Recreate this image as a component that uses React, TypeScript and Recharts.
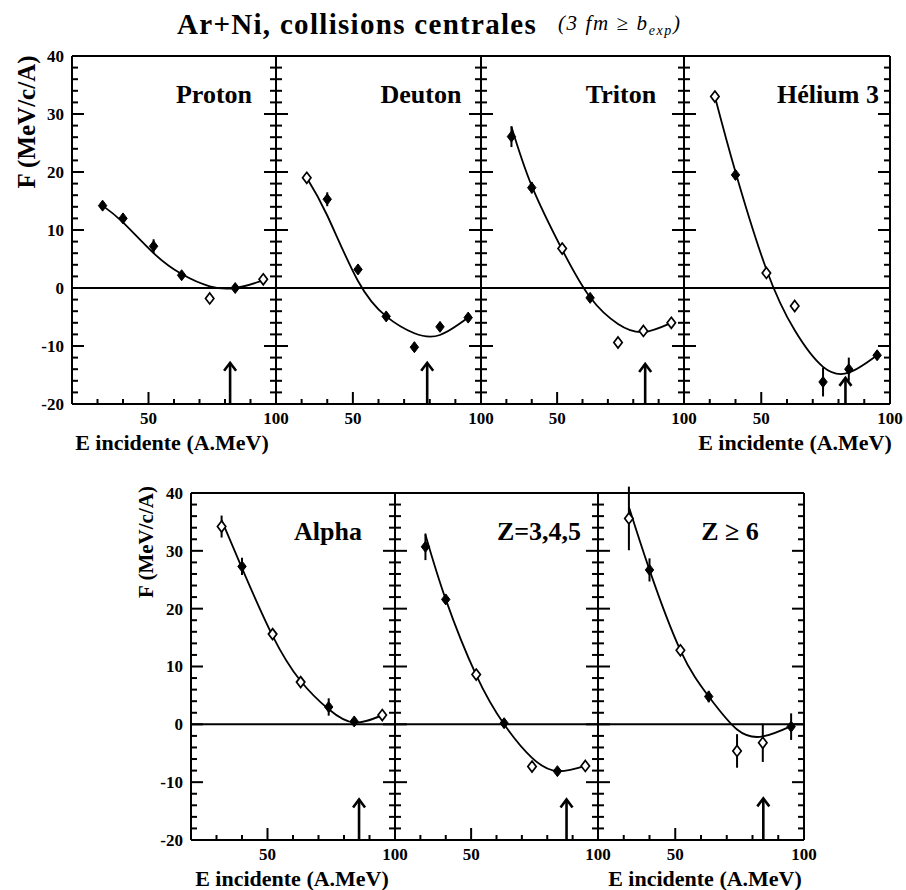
import React from "react";
import {
  ComposedChart,
  XAxis,
  YAxis,
  Line,
  Scatter,
  ErrorBar,
  ReferenceLine,
  ReferenceDot,
} from "recharts";

// énergies incidentes (A.MeV)
const ENERGIES = [32, 40, 52, 63, 74, 84, 95];

// F mesuré (MeV/c/A), barres d'erreur, symbole ouvert (1) ou plein (0)
const protonF = [14.2, 12.0, 7.2, 2.2, -1.8, 0.0, 1.5];
const protonErr = [0.6, 0.8, 1.2, 0.6, 0.6, 0.6, 0.6];
const protonOpen = [0, 0, 0, 0, 1, 0, 1];
const protonFit = [14.2, 11.3, 6.0, 2.4, 0.3, 0.0, 1.3];

const deutonF = [19.0, 15.3, 3.2, -4.9, -10.2, -6.7, -5.1];
const deutonErr = [0.6, 1.2, 0.8, 0.6, 0.8, 0.8, 0.6];
const deutonOpen = [1, 0, 0, 0, 0, 0, 0];
const deutonFit = [19.0, 12.5, 1.2, -4.9, -7.8, -8.1, -5.1];

const tritonF = [26.1, 17.3, 6.8, -1.7, -9.4, -7.4, -6.0];
const tritonErr = [1.8, 1.0, 0.6, 0.6, 0.6, 0.6, 0.6];
const tritonOpen = [0, 0, 1, 0, 1, 1, 1];
const tritonFit = [27.8, 17.6, 6.6, -1.6, -6.2, -7.6, -6.0];

const heliumF = [33.0, 19.5, 2.6, -3.1, -16.2, -14.0, -11.6];
const heliumErr = [0.6, 0.8, 0.8, 0.6, 2.5, 2.0, 0.8];
const heliumOpen = [1, 0, 1, 1, 0, 0, 0];
const heliumFit = [33.0, 20.0, 3.2, -7.3, -13.6, -14.6, -11.6];

const alphaF = [34.2, 27.3, 15.6, 7.3, 3.0, 0.5, 1.6];
const alphaErr = [1.9, 1.5, 0.6, 0.6, 1.5, 0.6, 0.6];
const alphaOpen = [1, 0, 1, 1, 0, 0, 1];
const alphaFit = [35.3, 27.0, 15.3, 7.5, 2.6, 0.3, 1.6];

const z345F = [30.7, 21.6, 8.6, 0.2, -7.3, -8.1, -7.2];
const z345Err = [2.3, 0.8, 0.6, 0.8, 0.6, 0.6, 0.6];
const z345Open = [0, 0, 1, 0, 1, 0, 1];
const z345Fit = [32.8, 21.6, 8.5, 0.0, -5.8, -8.1, -7.2];

const z6F = [35.6, 26.7, 12.8, 4.8, -4.6, -3.2, -0.4];
const z6Err = [5.5, 2.0, 0.6, 1.0, 2.9, 3.3, 2.3];
const z6Open = [1, 0, 1, 0, 1, 1, 0];
const z6Fit = [37.6, 26.7, 12.8, 4.8, -0.9, -2.1, -0.3];

// flèches : énergie et hauteur de la pointe
const arrowE = [82, 79, 84.7, 82.7, 85.9, 87.6, 84.2];
const arrowTip = [-12.9, -12.9, -13.1, -15.5, -13, -13, -12.8];

const Y_TICKS = [-20, -18, -16, -14, -12, -10, -8, -6, -4, -2, 0, 2, 4, 6, 8, 10, 12, 14, 16, 18, 20, 22, 24, 26, 28, 30, 32, 34, 36, 38, 40];
const X_TICKS = [30, 40, 50, 60, 70, 80, 90, 100];

const FONT = "'Liberation Serif', 'Times New Roman', serif";
const X_DOMAIN = [20, 100];
const Y_DOMAIN = [-20, 40];

const makePoints = (f: number[], err: number[], open: number[]) =>
  ENERGIES.map((x, i) => ({ x, y: f[i], err: err[i], open: open[i] === 1 }));
const makeFit = (fit: number[]) => ENERGIES.map((x, i) => ({ x, y: fit[i] }));

const panels = [
  { name: "Proton", pts: makePoints(protonF, protonErr, protonOpen), fit: makeFit(protonFit) },
  { name: "Deuton", pts: makePoints(deutonF, deutonErr, deutonOpen), fit: makeFit(deutonFit) },
  { name: "Triton", pts: makePoints(tritonF, tritonErr, tritonOpen), fit: makeFit(tritonFit) },
  { name: "Hélium 3", pts: makePoints(heliumF, heliumErr, heliumOpen), fit: makeFit(heliumFit) },
  { name: "Alpha", pts: makePoints(alphaF, alphaErr, alphaOpen), fit: makeFit(alphaFit) },
  { name: "Z=3,4,5", pts: makePoints(z345F, z345Err, z345Open), fit: makeFit(z345Fit) },
  { name: "Z ≥ 6", pts: makePoints(z6F, z6Err, z6Open), fit: makeFit(z6Fit) },
].map((p, i) => ({ ...p, arrow: arrowE[i], tip: arrowTip[i] }));

// géométrie des cadres (px)
const TOP = { lefts: [72, 276, 481, 684], right: 890, top: 56, h: 348, nameDx: [142, 145, 140, 144] };
const BOT = { lefts: [191, 395, 598], right: 804, top: 493, h: 347, nameDx: [137, 144, 132] };
const PAD = 40;
const PADT = 10;

const Diamond = (props: any) => {
  const { cx, cy, payload } = props;
  if (cx == null || cy == null) return null;
  const w = 4.2;
  const h = 5.5;
  const d = `M${cx},${cy - h}L${cx + w},${cy}L${cx},${cy + h}L${cx - w},${cy}Z`;
  return payload.open ? (
    <path d={d} fill="#fff" stroke="#000" strokeWidth={1.7} />
  ) : (
    <path d={d} fill="#000" stroke="#000" strokeWidth={1} />
  );
};

const Arrowhead = (props: any) => {
  const { cx, cy } = props;
  return (
    <path
      d={`M${cx - 6},${cy + 8}L${cx},${cy}L${cx + 6},${cy + 8}`}
      fill="none"
      stroke="#000"
      strokeWidth={2.6}
    />
  );
};

const YLabel = (props: any) => {
  const x = Number(props.x);
  const y = Number(props.y);
  const v = props.payload.value;
  if (!props.labels || v % 10 !== 0) return <g />;
  return (
    <text x={x - 8} y={y} dy="0.35em" textAnchor="end" fontFamily={FONT} fontWeight="bold" fontSize={17} fill="#000">
      {v}
    </text>
  );
};

const XLabel = (props: any) => {
  const x = Number(props.x);
  const y = Number(props.y);
  const v = props.payload.value;
  if (v !== 50 && v !== 100) return <g />;
  return (
    <text x={x} y={y + 20} textAnchor="middle" fontFamily={FONT} fontWeight="bold" fontSize={17} fill="#000">
      {v}
    </text>
  );
};

// graduations intérieures d'un cadre (même correspondance linéaire que les axes)
const FrameTicks = ({ left, top, w, h }: any) => {
  const px = (v: number) => left + ((v - X_DOMAIN[0]) / (X_DOMAIN[1] - X_DOMAIN[0])) * w;
  const py = (v: number) => top + ((Y_DOMAIN[1] - v) / (Y_DOMAIN[1] - Y_DOMAIN[0])) * h;
  return (
    <g stroke="#000" strokeWidth={2}>
      {Y_TICKS.map((v) => {
        const len = v % 10 === 0 ? 12 : 6;
        const y = py(v);
        return (
          <g key={"y" + v}>
            <line x1={left} x2={left + len} y1={y} y2={y} />
            <line x1={left + w} x2={left + w - len} y1={y} y2={y} />
          </g>
        );
      })}
      {X_TICKS.filter((v) => v < X_DOMAIN[1]).map((v) => (
        <line key={"x" + v} x1={px(v)} x2={px(v)} y1={top + h} y2={top + h - (v === 50 ? 12 : 5)} />
      ))}
    </g>
  );
};

// axes d'épaisseur 1 px : Recharts ne dessine pas un axe de taille 0
const Panel = ({ p, left, top, w, h, labels }: any) => (
  <div style={{ position: "absolute", left: left - PAD, top: top - PADT }}>
    <ComposedChart
      width={w + 2 * PAD}
      height={h + PADT + PAD}
      margin={{ top: PADT, right: PAD, bottom: PAD - 1, left: PAD - 1 }}
    >
      <XAxis
        type="number"
        dataKey="x"
        domain={X_DOMAIN}
        ticks={X_TICKS}
        interval={0}
        height={1}
        tickSize={0}
        tickMargin={0}
        allowDataOverflow
        axisLine={{ stroke: "#000", strokeWidth: 2 }}
        tickLine={false}
        tick={(t: any) => <XLabel {...t} />}
      />
      <YAxis
        type="number"
        dataKey="y"
        domain={Y_DOMAIN}
        ticks={Y_TICKS}
        interval={0}
        width={1}
        tickSize={0}
        tickMargin={0}
        allowDataOverflow
        axisLine={{ stroke: "#000", strokeWidth: 2 }}
        tickLine={false}
        tick={(t: any) => <YLabel {...t} labels={labels} />}
      />
      <ReferenceLine y={40} stroke="#000" strokeWidth={2} />
      <ReferenceLine x={100} stroke="#000" strokeWidth={2} />
      <ReferenceLine y={0} stroke="#000" strokeWidth={2} />
      <ReferenceLine
        segment={[
          { x: p.arrow, y: -20 },
          { x: p.arrow, y: p.tip },
        ]}
        stroke="#000"
        strokeWidth={2.6}
      />
      <ReferenceDot x={p.arrow} y={p.tip} r={0} shape={(s: any) => <Arrowhead {...s} />} />
      <Line
        data={p.fit}
        dataKey="y"
        type="natural"
        dot={false}
        stroke="#000"
        strokeWidth={1.8}
        isAnimationActive={false}
      />
      <Scatter data={p.pts} dataKey="y" shape={(s: any) => <Diamond {...s} />} isAnimationActive={false}>
        <ErrorBar dataKey="err" direction="y" width={0} stroke="#000" strokeWidth={2} />
      </Scatter>
    </ComposedChart>
  </div>
);

const textStyle = { fontFamily: FONT, fontWeight: "bold" as const, fill: "#000" };

export default function App() {
  const topW = (i: number) => (i < 3 ? TOP.lefts[i + 1] : TOP.right) - TOP.lefts[i];
  const botW = (i: number) => (i < 2 ? BOT.lefts[i + 1] : BOT.right) - BOT.lefts[i];
  return (
    <div style={{ position: "absolute", left: 0, top: 0, width: 906, height: 890, background: "#fff" }}>
      {TOP.lefts.map((l, i) => (
        <Panel key={"t" + i} p={panels[i]} left={l} top={TOP.top} w={topW(i)} h={TOP.h} labels={i === 0} />
      ))}
      {BOT.lefts.map((l, i) => (
        <Panel key={"b" + i} p={panels[4 + i]} left={l} top={BOT.top} w={botW(i)} h={BOT.h} labels={i === 0} />
      ))}
      <svg width={906} height={890} style={{ position: "absolute", left: 0, top: 0, pointerEvents: "none" }}>
        {TOP.lefts.map((l, i) => (
          <FrameTicks key={"ft" + i} left={l} top={TOP.top} w={topW(i)} h={TOP.h} />
        ))}
        {BOT.lefts.map((l, i) => (
          <FrameTicks key={"fb" + i} left={l} top={BOT.top} w={botW(i)} h={BOT.h} />
        ))}
        <text x={177} y={34} fontSize={29} letterSpacing={1.3} {...textStyle}>
          Ar+Ni, collisions centrales
        </text>
        <text x={558} y={30} fontSize={21} letterSpacing={1.6} fontStyle="italic" fontFamily={FONT} fill="#000">
          (3 fm ≥ b
          <tspan dy={5} fontSize={14}>
            exp
          </tspan>
          <tspan dy={-5}>)</tspan>
        </text>
        {/* titres des cadres */}
        {TOP.lefts.map((l, i) => (
          <text key={"nt" + i} x={l + TOP.nameDx[i]} y={103} textAnchor="middle" fontSize={26} {...textStyle}>
            {panels[i].name}
          </text>
        ))}
        {BOT.lefts.map((l, i) => (
          <text key={"nb" + i} x={l + BOT.nameDx[i]} y={540} textAnchor="middle" fontSize={26} {...textStyle}>
            {panels[4 + i].name}
          </text>
        ))}
        {/* axes */}
        <text transform="translate(35,122) rotate(-90)" textAnchor="middle" fontSize={25} {...textStyle}>
          F (MeV/c/A)
        </text>
        <text transform="translate(153,542) rotate(-90)" textAnchor="middle" fontSize={21} {...textStyle}>
          F (MeV/c/A)
        </text>
        <text x={172} y={450} textAnchor="middle" fontSize={22} {...textStyle}>
          E incidente (A.MeV)
        </text>
        <text x={795} y={450} textAnchor="middle" fontSize={22} {...textStyle}>
          E incidente (A.MeV)
        </text>
        <text x={292} y={886} textAnchor="middle" fontSize={22} {...textStyle}>
          E incidente (A.MeV)
        </text>
        <text x={705} y={886} textAnchor="middle" fontSize={22} {...textStyle}>
          E incidente (A.MeV)
        </text>
      </svg>
    </div>
  );
}
